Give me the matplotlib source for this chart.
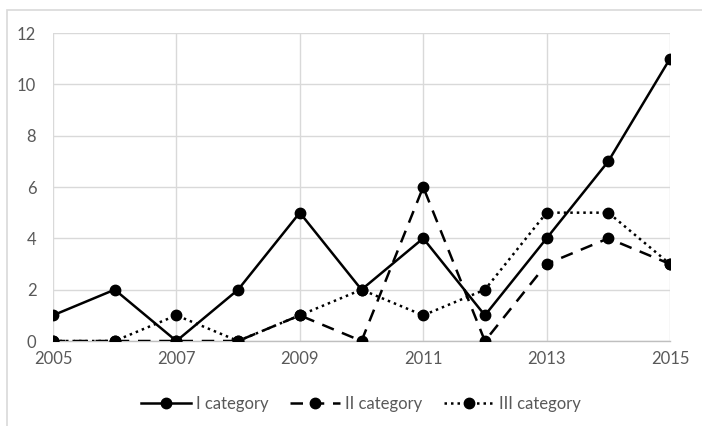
import matplotlib
matplotlib.use("Agg")
import matplotlib.pyplot as plt
from matplotlib.patches import Rectangle

years = [2005, 2006, 2007, 2008, 2009, 2010, 2011, 2012, 2013, 2014, 2015]
cat1 = [1, 2, 0, 2, 5, 2, 4, 1, 4, 7, 11]
cat2 = [0, 0, 0, 0, 1, 0, 6, 0, 3, 4, 3]
cat3 = [0, 0, 1, 0, 1, 2, 1, 2, 5, 5, 3]
labels = ["I category", "II category", "III category"]
xticks = [2005, 2007, 2009, 2011, 2013, 2015]
yticks = [0, 2, 4, 6, 8, 10, 12]

plt.rcParams['font.family'] = ['Lato', 'DejaVu Sans']

fig = plt.figure(figsize=(7.02, 4.26), dpi=100)
ax = fig.add_axes([53/702, 1-341/426, (670-53)/702, (341-33)/426])

# outer chart border
fig.patches.append(Rectangle((7/702, -0.05), 1.2, 1-10/426+0.05, transform=fig.transFigure,
                             fill=False, edgecolor='#d9d9d9', linewidth=1.2))

ms = 7.5
lw = 1.8
ax.plot(years, cat1, color='black', linestyle='-', linewidth=lw, marker='o', markersize=ms, label=labels[0], zorder=3)
ax.plot(years, cat2, color='black', linestyle=(0, (5, 3.5)), linewidth=lw, marker='o', markersize=ms, label=labels[1], zorder=3)
ax.plot(years, cat3, color='black', linestyle=(0, (1, 1.6)), linewidth=lw, marker='o', markersize=ms, label=labels[2], zorder=3)

ax.set_xlim(2005, 2015)
ax.set_ylim(0, 12)
ax.set_xticks(xticks)
ax.set_yticks(yticks)
ax.grid(True, color='#d9d9d9', linewidth=1.0, zorder=0)
ax.set_axisbelow(True)
for s in ['top', 'right', 'left']:
    ax.spines[s].set_visible(False)
ax.spines['bottom'].set_color('#bfbfbf')
ax.spines['bottom'].set_linewidth(1.0)
ax.tick_params(axis='both', length=0, labelsize=12, labelcolor='#595959')
ax.tick_params(axis='x', pad=7)
ax.tick_params(axis='y', pad=12)

leg = fig.legend(loc='center', bbox_to_anchor=(361/702, 1-404/426), ncol=3, frameon=False,
                 fontsize=12, labelcolor='#595959', handlelength=3.0, columnspacing=1.3, handletextpad=0.3)

fig.savefig('out.png', dpi=100)
